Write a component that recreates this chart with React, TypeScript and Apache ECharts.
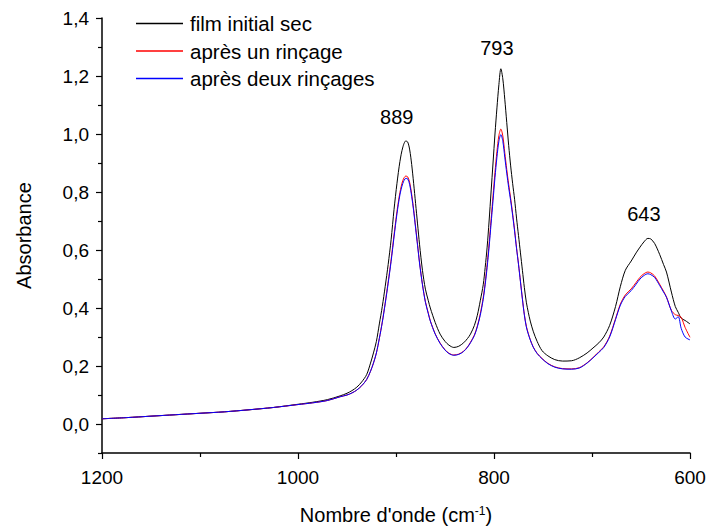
import React, { useEffect, useRef } from "react";
import * as echarts from "echarts";

const wavenumbers = [
  1200, 1175, 1150, 1125, 1100, 1075, 1050, 1025, 1000, 985,
  970, 957, 950, 945, 940, 935, 930, 926, 923, 920,
  917, 914, 911, 908, 905, 902, 899, 896, 893, 890,
  888, 886, 884, 882, 880, 878, 876, 873, 870, 867,
  865, 860, 855, 850, 846, 841, 836, 831, 827, 824,
  820, 817, 814, 811, 809, 807, 805, 803, 801, 799,
  797, 795, 793, 791, 789, 787, 785, 783, 781, 779,
  777, 775, 773, 771, 769, 767, 765, 763, 760, 756,
  751, 745, 738, 730, 721, 713, 705, 699, 693, 688,
  682, 676, 671, 666, 660, 655, 651, 647, 643, 640,
  636, 631, 627, 624, 619, 615, 612, 609, 605, 600,
];

const filmInitialSec = [
  0.018, 0.022, 0.027, 0.032, 0.037, 0.042, 0.049, 0.057, 0.068, 0.075,
  0.084, 0.097, 0.106, 0.115, 0.127, 0.145, 0.170, 0.210, 0.245, 0.285,
  0.345, 0.405, 0.475, 0.550, 0.635, 0.740, 0.830, 0.905, 0.955, 0.976,
  0.972, 0.945, 0.895, 0.830, 0.760, 0.690, 0.620, 0.530, 0.465, 0.425,
  0.400, 0.350, 0.310, 0.285, 0.272, 0.264, 0.268, 0.280, 0.295, 0.310,
  0.340, 0.375, 0.425, 0.480, 0.540, 0.610, 0.700, 0.800, 0.900, 1.000,
  1.090, 1.170, 1.225, 1.190, 1.120, 1.040, 0.960, 0.890, 0.830, 0.775,
  0.710, 0.650, 0.590, 0.530, 0.470, 0.420, 0.385, 0.355, 0.320, 0.285,
  0.253, 0.235, 0.222, 0.217, 0.218, 0.228, 0.245, 0.262, 0.280, 0.300,
  0.340, 0.405, 0.475, 0.530, 0.562, 0.590, 0.610, 0.628, 0.640, 0.638,
  0.622, 0.585, 0.550, 0.524, 0.455, 0.405, 0.385, 0.365, 0.357, 0.345,
];

const apresUnRincage = [
  0.018, 0.022, 0.027, 0.032, 0.037, 0.042, 0.049, 0.057, 0.067, 0.073,
  0.081, 0.094, 0.100, 0.107, 0.117, 0.132, 0.153, 0.182, 0.210, 0.245,
  0.295, 0.352, 0.418, 0.490, 0.566, 0.652, 0.733, 0.798, 0.840, 0.855,
  0.852, 0.832, 0.792, 0.740, 0.680, 0.620, 0.558, 0.482, 0.422, 0.382,
  0.356, 0.311, 0.279, 0.256, 0.244, 0.238, 0.241, 0.251, 0.266, 0.282,
  0.307, 0.338, 0.380, 0.436, 0.488, 0.550, 0.622, 0.704, 0.786, 0.868,
  0.940, 0.995, 1.017, 0.993, 0.936, 0.878, 0.826, 0.778, 0.726, 0.670,
  0.608, 0.552, 0.492, 0.432, 0.377, 0.337, 0.312, 0.291, 0.266, 0.244,
  0.226, 0.209, 0.197, 0.191, 0.190, 0.194, 0.211, 0.229, 0.249, 0.266,
  0.303, 0.363, 0.414, 0.445, 0.466, 0.488, 0.506, 0.518, 0.524, 0.521,
  0.510, 0.482, 0.458, 0.438, 0.392, 0.377, 0.374, 0.368, 0.333, 0.299,
];

const apresDeuxRincages = [
  0.018, 0.022, 0.027, 0.032, 0.037, 0.042, 0.049, 0.057, 0.067, 0.073,
  0.081, 0.094, 0.100, 0.107, 0.117, 0.132, 0.153, 0.182, 0.210, 0.245,
  0.295, 0.350, 0.415, 0.485, 0.560, 0.645, 0.725, 0.790, 0.830, 0.847,
  0.845, 0.825, 0.785, 0.735, 0.675, 0.615, 0.555, 0.480, 0.420, 0.380,
  0.355, 0.310, 0.278, 0.255, 0.243, 0.237, 0.240, 0.250, 0.265, 0.280,
  0.305, 0.335, 0.375, 0.430, 0.480, 0.540, 0.610, 0.690, 0.770, 0.850,
  0.920, 0.975, 0.998, 0.975, 0.920, 0.865, 0.815, 0.770, 0.720, 0.665,
  0.605, 0.550, 0.490, 0.430, 0.375, 0.335, 0.310, 0.290, 0.265, 0.243,
  0.225, 0.208, 0.196, 0.190, 0.189, 0.193, 0.210, 0.228, 0.247, 0.264,
  0.300, 0.360, 0.410, 0.440, 0.460, 0.482, 0.500, 0.512, 0.518, 0.515,
  0.505, 0.478, 0.455, 0.437, 0.390, 0.362, 0.370, 0.330, 0.300, 0.290,
];

const seriesNames = ["film initial sec", "après un rinçage", "après deux rinçages"];
const seriesColors = ["#000000", "#ff0000", "#0000ff"];

const peakLabels = ["889", "793", "643"];
const peakPositions = [889, 793, 643];
const peakValues = [0.976, 1.225, 0.64];
const peakOffsets = [[-10, -24], [-4, -21], [-4, -24]];

const majorYTicks = [0, 0.2, 0.4, 0.6, 0.8, 1.0, 1.2, 1.4];
const minorYTicks = [-0.1, 0.1, 0.3, 0.5, 0.7, 0.9, 1.1, 1.3];

const FONT = "'Liberation Sans', Arial, sans-serif";

export default function App() {
  const ref = useRef<HTMLDivElement>(null);

  useEffect(() => {
    if (!ref.current) return;
    const chart = echarts.init(ref.current, undefined, { renderer: "svg" });
    const values = [filmInitialSec, apresUnRincage, apresDeuxRincages];

    const series: any[] = values.map((arr, i) => ({
      name: seriesNames[i],
      type: "line",
      data: wavenumbers.map((w, j) => [w, arr[j]]),
      symbol: "none",
      smooth: 0.3,
      lineStyle: { color: seriesColors[i], width: 1 },
      itemStyle: { color: seriesColors[i] },
      z: 2 + i,
    }));

    series[0].markPoint = {
      symbol: "circle",
      symbolSize: 1,
      itemStyle: { color: "transparent" },
      label: {
        show: true,
        position: "inside",
        formatter: "{b}",
        color: "#000",
        fontSize: 20,
        fontFamily: FONT,
      },
      data: peakLabels.map((name, i) => ({
        name,
        coord: [peakPositions[i], peakValues[i]],
        label: { offset: peakOffsets[i] },
      })),
    };

    chart.setOption({
      animation: false,
      textStyle: { fontFamily: FONT },
      grid: { left: 102, right: 20, top: 18, bottom: 78, containLabel: false },
      legend: {
        orient: "vertical",
        left: 136,
        top: 13,
        padding: 0,
        icon: "rect",
        itemWidth: 47,
        itemHeight: 1.3,
        itemGap: 6.5,
        data: seriesNames,
        textStyle: { fontSize: 20.5, color: "#000", fontFamily: FONT, lineHeight: 20, padding: [0, 0, 0, 2] },
      },
      xAxis: {
        type: "value",
        inverse: true,
        min: 600,
        max: 1200,
        interval: 200,
        name: "Nombre d'onde (cm{sup|-1})",
        nameLocation: "middle",
        nameGap: 52,
        nameTextStyle: {
          fontSize: 20,
          color: "#000",
          fontFamily: FONT,
          rich: { sup: { fontSize: 12, verticalAlign: "top", lineHeight: 12, color: "#000", fontFamily: FONT } },
        },
        axisLine: { show: true, onZero: false, lineStyle: { color: "#000", width: 1.5 } },
        axisTick: { show: true, inside: false, length: 6, lineStyle: { color: "#000", width: 1.2 } },
        minorTick: { show: true, splitNumber: 2, length: 4, lineStyle: { color: "#000", width: 1.2 } },
        splitLine: { show: false },
        axisLabel: {
          fontSize: 19,
          color: "#000",
          margin: 15,
          fontFamily: FONT,
          formatter: (v: number) => String(Math.round(v)),
        },
      },
      yAxis: [
        {
          type: "value",
          min: -0.1,
          max: 1.4,
          position: "left",
          name: "Absorbance",
          nameLocation: "middle",
          nameGap: 68,
          nameTextStyle: { fontSize: 20, color: "#000", fontFamily: FONT },
          axisLine: { show: true, onZero: false, lineStyle: { color: "#000", width: 1.5 } },
          axisTick: { show: true, inside: false, length: 6, customValues: majorYTicks, lineStyle: { color: "#000", width: 1.2 } },
          splitLine: { show: false },
          axisLabel: {
            fontSize: 19,
            color: "#000",
            margin: 13,
            fontFamily: FONT,
            customValues: majorYTicks,
            formatter: (v: number) => v.toFixed(1).replace(".", ","),
          },
        },
        {
          type: "value",
          min: -0.1,
          max: 1.4,
          position: "left",
          offset: 0,
          axisLine: { show: false },
          axisTick: { show: true, inside: false, length: 4, customValues: minorYTicks, lineStyle: { color: "#000", width: 1.2 } },
          splitLine: { show: false },
          axisLabel: { show: false },
        },
      ],
      series,
    });

    return () => chart.dispose();
  }, []);

  return (
    <div
      ref={ref}
      style={{ position: "fixed", left: 0, top: 0, width: 710, height: 531, background: "#fff" }}
    />
  );
}
